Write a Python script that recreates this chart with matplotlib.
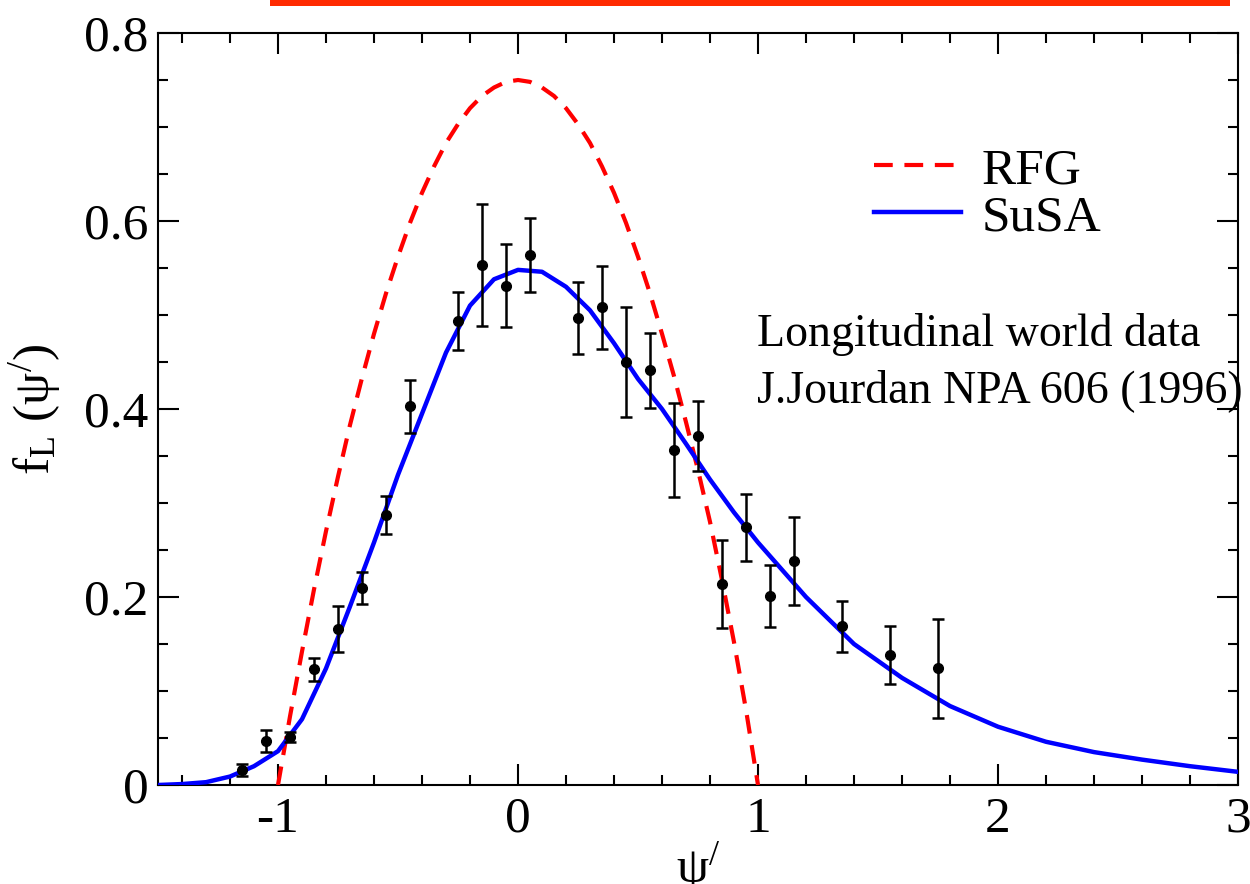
import matplotlib
matplotlib.use("Agg")
import matplotlib.pyplot as plt
from matplotlib.patches import Rectangle
from matplotlib.ticker import MultipleLocator

plt.rcParams['font.family'] = ['Liberation Serif', 'DejaVu Serif']
plt.rcParams['mathtext.fontset'] = 'custom'
plt.rcParams['mathtext.rm'] = 'Liberation Serif'
plt.rcParams['mathtext.it'] = 'Liberation Serif:italic'
plt.rcParams['mathtext.bf'] = 'Liberation Serif:bold'

# Data points (Longitudinal world data)
data_x = [-1.15, -1.05, -0.95, -0.85, -0.75, -0.65, -0.55, -0.45, -0.25, -0.15,
          -0.05, 0.05, 0.25, 0.35, 0.45, 0.55, 0.65, 0.75, 0.85, 0.95,
          1.05, 1.15, 1.35, 1.55, 1.75]
data_y = [0.016, 0.047, 0.051, 0.123, 0.166, 0.210, 0.287, 0.403, 0.494, 0.553,
          0.531, 0.564, 0.497, 0.508, 0.450, 0.441, 0.356, 0.371, 0.214, 0.274,
          0.201, 0.238, 0.169, 0.138, 0.124]
data_err = [0.006, 0.012, 0.005, 0.012, 0.024, 0.017, 0.020, 0.028, 0.031, 0.065,
            0.044, 0.039, 0.038, 0.044, 0.058, 0.040, 0.050, 0.037, 0.047, 0.036,
            0.033, 0.047, 0.027, 0.031, 0.053]

# RFG curve
rfg_x = [-1.0, -0.95, -0.9, -0.85, -0.8, -0.75, -0.7, -0.65, -0.6, -0.55, -0.5, -0.45,
         -0.4, -0.35, -0.3, -0.25, -0.2, -0.15, -0.1, -0.05, 0.0,
         0.05, 0.1, 0.15, 0.2, 0.25, 0.3, 0.35, 0.4, 0.45, 0.5,
         0.55, 0.6, 0.65, 0.7, 0.75, 0.8, 0.85, 0.9, 0.95, 1.0]
rfg_y = [0.0, 0.073, 0.142, 0.208, 0.27, 0.328, 0.383, 0.433, 0.48, 0.523, 0.562, 0.598,
         0.63, 0.658, 0.683, 0.703, 0.72, 0.733, 0.742, 0.748, 0.75,
         0.748, 0.742, 0.733, 0.72, 0.703, 0.683, 0.658, 0.63, 0.598, 0.562,
         0.523, 0.48, 0.435, 0.386, 0.335, 0.28, 0.218, 0.152, 0.08, 0.0]

# SuSA curve
susa_x = [-1.5, -1.4, -1.3, -1.2, -1.1, -1.0, -0.9, -0.8, -0.7, -0.6, -0.5, -0.4,
          -0.3, -0.2, -0.1, 0.0, 0.1, 0.2, 0.3, 0.4, 0.5, 0.6, 0.7, 0.8, 0.9, 1.0,
          1.2, 1.4, 1.6, 1.8, 2.0, 2.2, 2.4, 2.6, 2.8, 3.0]
susa_y = [0.0, 0.001, 0.003, 0.009, 0.020, 0.036, 0.070, 0.124, 0.190, 0.258, 0.330, 0.395,
          0.460, 0.510, 0.538, 0.548, 0.546, 0.530, 0.505, 0.470, 0.432, 0.400, 0.363, 0.325, 0.290, 0.258,
          0.200, 0.150, 0.114, 0.084, 0.062, 0.046, 0.035, 0.027, 0.020, 0.014]

fig = plt.figure(figsize=(12.5, 8.84), dpi=100)
ax = fig.add_axes([158/1250, 99/884, 1080/1250, 752/884])

ax.plot(rfg_x, rfg_y, color='#ff0000', lw=3.0, dashes=(4.5, 2.8), label='RFG', zorder=3)
ax.plot(susa_x, susa_y, color='#0000ff', lw=3.2, label='SuSA', zorder=3)
ax.errorbar(data_x, data_y, yerr=data_err, fmt='o', color='black', ms=7,
            elinewidth=1.8, capsize=4.5, capthick=1.8, zorder=4)

ax.set_xlim(-1.5, 3)
ax.set_ylim(0, 0.8)
ax.xaxis.set_minor_locator(MultipleLocator(0.2))
ax.yaxis.set_minor_locator(MultipleLocator(0.05))
ax.set_xticks([-1, 0, 1, 2, 3])
ax.set_xticklabels(['-1', '0', '1', '2', '3'])
ax.set_yticks([0, 0.2, 0.4, 0.6, 0.8])
ax.set_yticklabels(['0', '0.2', '0.4', '0.6', '0.8'])
ax.tick_params(which='both', direction='in', top=True, right=True, width=1.5, labelsize=37)
ax.tick_params(which='major', length=15)
ax.tick_params(which='minor', length=7)
ax.tick_params(axis='x', pad=8)
ax.tick_params(axis='y', pad=7)
for s in ax.spines.values():
    s.set_linewidth(1.5)

ax.set_xlabel('ψ$^{/}$', fontsize=37, labelpad=-2)
ax.set_ylabel('f$_{\\mathrm{L}}$ (ψ$^{/}$)', fontsize=37, labelpad=15)

leg = ax.legend(loc='upper left', bbox_to_anchor=(0.663, 0.848), frameon=False,
                fontsize=37, handlelength=1.7, handletextpad=0.4, labelspacing=0.0,
                borderpad=0, borderaxespad=0)

ax.text(0.995, 0.467, 'Longitudinal world data', fontsize=33, va='baseline', ha='left')
ax.text(0.995, 0.407, 'J.Jourdan NPA 606 (1996)', fontsize=33, va='baseline', ha='left')

fig.add_artist(Rectangle((270/1250, 1 - 6/884), 960/1250, 6/884, transform=fig.transFigure,
                         color='#ff2a00', lw=0))

fig.savefig('out.png', dpi=100)
